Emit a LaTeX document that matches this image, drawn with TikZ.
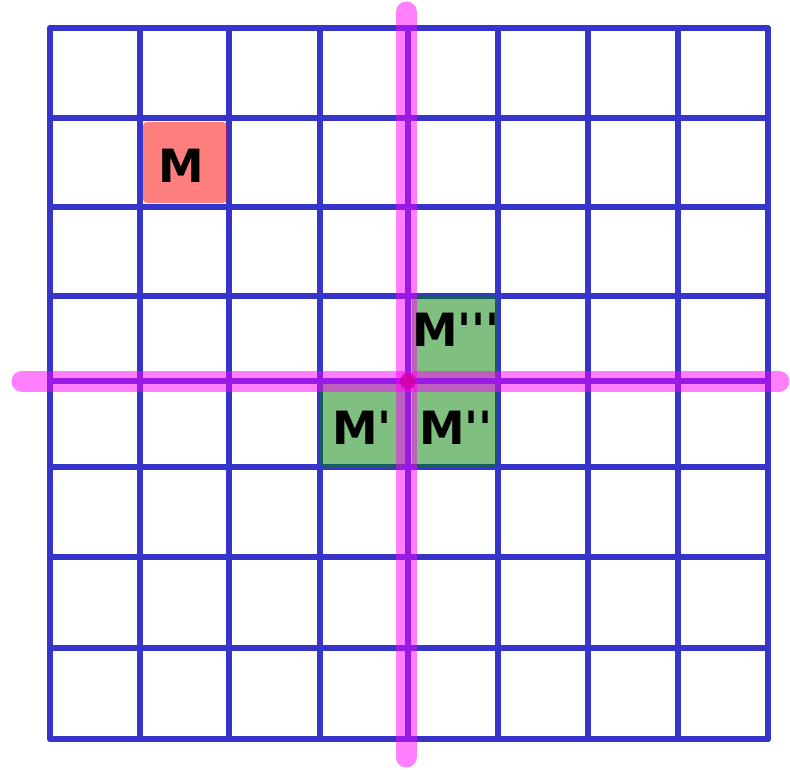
\documentclass[tikz,border=0pt]{standalone}
\usepackage{fontspec}
\setmainfont{DejaVu Sans}
\definecolor{gridblue}{RGB}{53,53,204}
\definecolor{axmag}{RGB}{255,0,255}
\definecolor{cellred}{RGB}{255,0,0}
\definecolor{cellgreen}{RGB}{0,128,0}
\definecolor{dotmag}{RGB}{210,0,160}
\newcommand{\pq}{\textquotesingle}
\begin{document}
\begin{tikzpicture}[x=1bp,y=-1bp,
  gridline/.style={draw=gridblue,line width=5.5bp,line cap=round},
  axisline/.style={draw=axmag,draw opacity=0.5,line width=21bp,line cap=round},
  redcell/.style={fill=cellred,fill opacity=0.5,rounded corners=4bp},
  greencell/.style={fill=cellgreen,fill opacity=0.5,rounded corners=4bp},
  lbl/.style={text=black,font=\bfseries\fontsize{46}{50}\selectfont,inner sep=0pt}]
\useasboundingbox (0,0) rectangle (790,770);
\fill[white] (0,0) rectangle (790,770);
% grid
\foreach \x in {50,140,229,320,408,498,588,678,768}
  \draw[gridline] (\x,28) -- (\x,739);
\foreach \y in {28,118,207,296,381,467,557,648,739}
  \draw[gridline] (50,\y) -- (768,\y);
% cells
\fill[redcell] (143,122) rectangle (227,203);
\fill[greencell] (412,296) rectangle (497,378);
\fill[greencell] (320,383) rectangle (405,467);
\fill[greencell] (412,383) rectangle (497,467);
% axes
\coordinate (vtop) at (406,12);
\coordinate (vbot) at (406,757);
\coordinate (hl) at (22,381);
\coordinate (hr) at (779,381);
\draw[axisline] (vtop) -- (vbot);
\draw[axisline] (hl) -- (hr);
\node[circle,fill=dotmag,fill opacity=0.8,minimum size=16bp,inner sep=0pt] (o) at (408,381) {};
% labels
\node[lbl] (m) at (181,166) {M};
\node[lbl] (m3) at (456,330) {M\pq\pq\pq};
\node[lbl] (m1) at (362,428) {M\pq};
\node[lbl] (m2) at (456,428) {M\pq\pq};
\end{tikzpicture}
\end{document}
